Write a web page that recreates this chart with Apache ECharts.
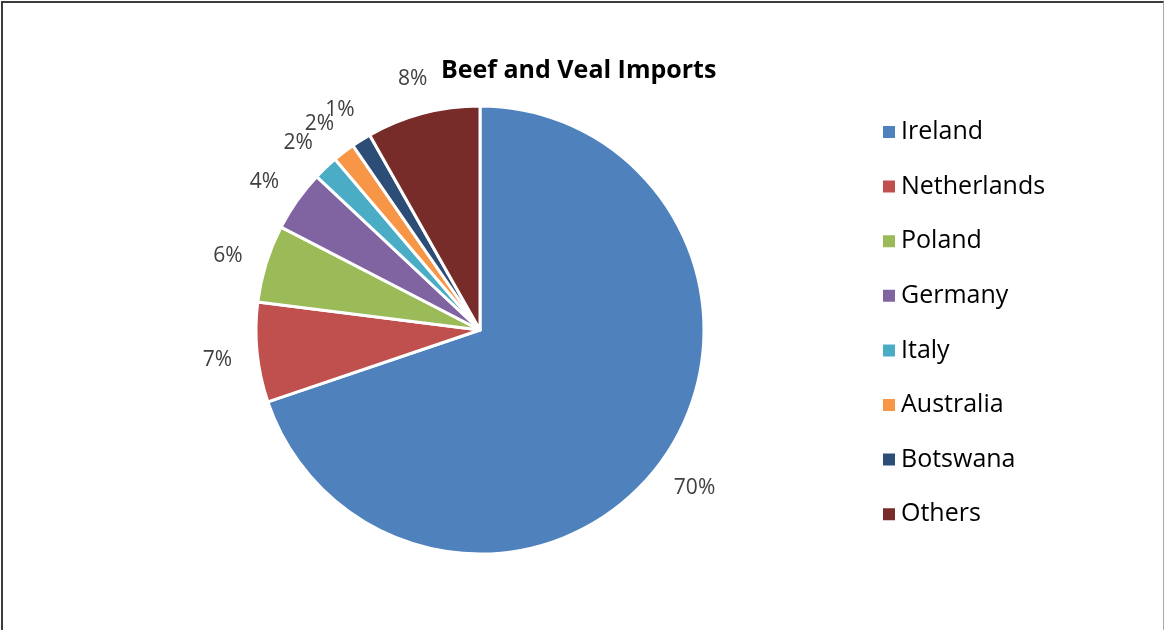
<!DOCTYPE html>
<html>
<head>
<meta charset="utf-8">
<title>Beef and Veal Imports</title>
<script src="https://cdn.jsdelivr.net/npm/echarts@6/dist/echarts.min.js"></script>
<style>
html, body { margin:0; padding:0; background:#fff; }
#main { position:absolute; left:0; top:0; width:1164px; height:630px; }
#frame { position:absolute; left:1px; top:1px; width:1160px; height:628px; pointer-events:none;
	border-left:2px solid #3c3c3c; border-top:2px solid #3c3c3c; border-right:1px solid #a8a8a8; border-bottom:1px solid #e6e6e6; }
</style>
</head>
<body>
<div id="main"></div>
<div id="frame"></div>
<script>
var countries = ['Ireland', 'Netherlands', 'Poland', 'Germany', 'Italy', 'Australia', 'Botswana', 'Others'];
var shares = [69.8, 7.2, 5.6, 4.4, 1.8, 1.6, 1.4, 8.2];
var colors = ['#4F81BD', '#C0504D', '#9BBB59', '#8064A2', '#4BACC6', '#F79646', '#2C4D75', '#772C2A'];

var pieData = [];
var labelData = [];
for (var i = 0; i < countries.length; i++) {
	pieData.push({name: countries[i], value: shares[i], itemStyle: {color: colors[i]}});
	labelData.push({name: countries[i], value: shares[i]});
}

var myChart = echarts.init(document.getElementById('main'));
var option = {
	backgroundColor: '#fff',
	animation: false,
	title: {
		text: 'Beef and Veal Imports',
		left: 436,
		top: 53,
		textStyle: {
			fontFamily: 'Open Sans',
			fontWeight: 'bold',
			fontSize: 25,
			color: '#000'
		}
	},
	legend: {
		orient: 'vertical',
		left: 876,
		top: 113,
		icon: 'rect',
		itemWidth: 14,
		itemHeight: 14,
		itemGap: 26.6,
		data: countries,
		selectedMode: false,
		textStyle: {
			fontFamily: 'Open Sans',
			fontSize: 25,
			lineHeight: 28,
			color: '#000'
		}
	},
	series: [ {
		name: 'share',
		type: 'pie',
		center: [480, 330],
		radius: 224,
		startAngle: 90,
		clockwise: true,
		silent: true,
		data: pieData,
		label: { show: false },
		labelLine: { show: false },
		itemStyle: {
			borderColor: '#fff',
			borderWidth: 3
		}
	}, {
		//只用来放百分比标签
		name: 'labels',
		type: 'pie',
		center: [480, 330],
		radius: [240, 282],
		startAngle: 90,
		clockwise: true,
		silent: true,
		avoidLabelOverlap: false,
		labelLayout: { hideOverlap: false },
		data: labelData,
		itemStyle: { color: 'rgba(0,0,0,0)' },
		labelLine: { show: false },
		label: {
			show: true,
			position: 'inside',
			offset: [0, 4],
			fontFamily: 'Open Sans',
			fontSize: 21,
			color: '#404040',
			formatter: function(p){
				return Math.round(p.value) + '%';
			}
		}
	} ]
};
myChart.setOption(option);
</script>
</body>
</html>
